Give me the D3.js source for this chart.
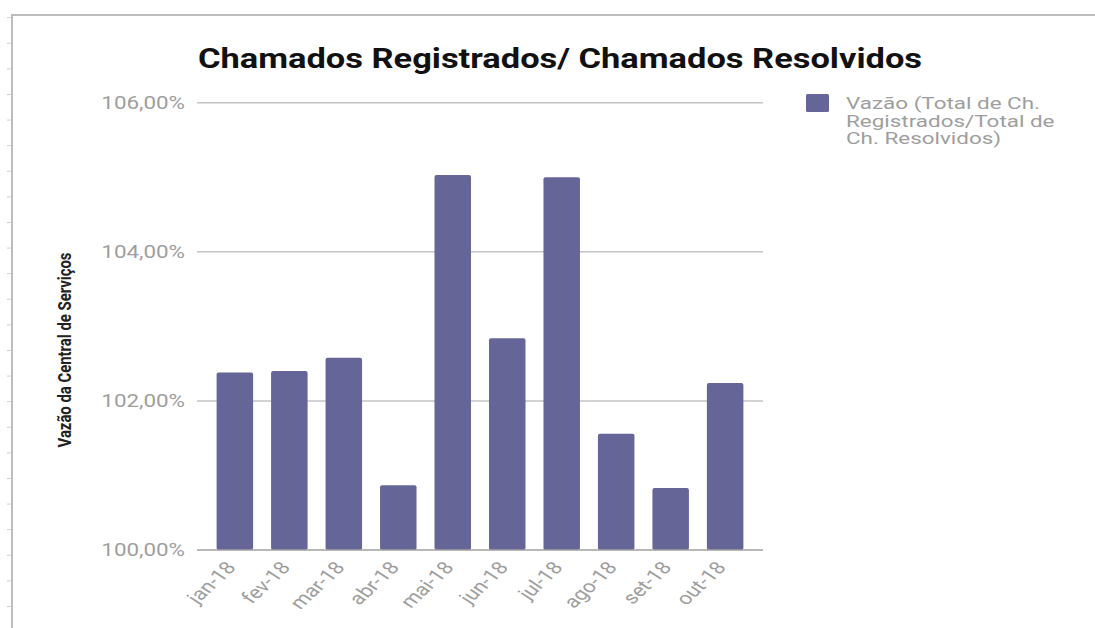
<!DOCTYPE html>
<html>
<head>
<meta charset="utf-8">
<script src="https://cdn.jsdelivr.net/npm/d3@7"></script>
<style>
  body { margin: 0; background: #fff; }
  svg { display: block; font-family: Roboto, "Noto Sans", sans-serif; }
</style>
</head>
<body>
<svg id="chart"></svg>
<script>
// chart data
const months = ["jan-18", "fev-18", "mar-18", "abr-18", "mai-18", "jun-18", "jul-18", "ago-18", "set-18", "out-18"];
const vazao = [102.38, 102.40, 102.58, 100.87, 105.03, 102.84, 105.00, 101.56, 100.83, 102.24];
const yTicks = [100, 102, 104, 106];
const legendLines = ["Vazão (Total de Ch.", "Registrados/Total de", "Ch. Resolvidos)"];

const width = 1095;
const height = 628;
const sx = 1.28; // the picture is stretched sideways

const svg = d3.select('#chart')
    .attr('width', width)
    .attr('height', height);

// page frame + ruler ticks
svg.append('line')
    .attr('x1', 11).attr('x2', width).attr('y1', 15).attr('y2', 15)
    .attr('stroke', '#bdbdbd').attr('stroke-width', 2);
svg.append('line')
    .attr('x1', 12).attr('x2', 12).attr('y1', 15).attr('y2', height)
    .attr('stroke', '#bdbdbd').attr('stroke-width', 2);
svg.selectAll('.ruler')
    .data(d3.range(24)).join('line')
    .attr('class', 'ruler')
    .attr('x1', 7).attr('x2', 11)
    .attr('y1', d => 17.7 + d * 25.6).attr('y2', d => 17.7 + d * 25.6)
    .attr('stroke', '#d0d0d0');

const x = d3.scaleBand()
    .domain(months)
    .range([197, 763])
    .paddingInner(0.33)
    .paddingOuter(0.36);

const y = d3.scaleLinear()
    .domain([100, 106])
    .range([550, 102.7]);

// gridlines
svg.selectAll('.grid')
    .data(yTicks.filter(d => d !== 100)).join('line')
    .attr('class', 'grid')
    .attr('x1', 197).attr('x2', 763)
    .attr('y1', d => y(d)).attr('y2', d => y(d))
    .attr('stroke', '#c4c4c4').attr('stroke-width', 1.5);

// y tick labels
svg.selectAll('.ylab')
    .data(yTicks).join('text')
    .attr('class', 'ylab')
    .attr('transform', d => `translate(185,${y(d)}) scale(${sx},1)`)
    .attr('dy', '0.35em')
    .attr('text-anchor', 'end')
    .attr('font-size', 17.5)
    .attr('fill', '#9e9e9e')
    .text(d => d.toFixed(2).replace('.', ',') + '%');

// bars
svg.selectAll('.bar')
    .data(months).join('rect')
    .attr('class', 'bar')
    .attr('x', d => x(d))
    .attr('width', x.bandwidth())
    .attr('y', (d, i) => y(vazao[i]))
    .attr('height', (d, i) => y(100) - y(vazao[i]))
    .attr('rx', 2)
    .attr('fill', '#656598');

// baseline
svg.append('line')
    .attr('x1', 197).attr('x2', 763)
    .attr('y1', y(100)).attr('y2', y(100))
    .attr('stroke', '#a0a0a0').attr('stroke-width', 1.5);

// x labels
svg.selectAll('.xlab')
    .data(months).join('text')
    .attr('class', 'xlab')
    .attr('transform', d => `translate(${x(d) + x.bandwidth() / 2 + 2},568) scale(${sx},1) rotate(-50)`)
    .attr('text-anchor', 'end')
    .attr('font-size', 17.5)
    .attr('fill', '#9e9e9e')
    .text(d => d);

// title
svg.append('text')
    .attr('x', 198).attr('y', 68)
    .attr('font-size', 27)
    .attr('font-weight', 'bold')
    .attr('textLength', 724)
    .attr('lengthAdjust', 'spacingAndGlyphs')
    .attr('fill', '#111')
    .text('Chamados Registrados/ Chamados Resolvidos');

// y axis title
svg.append('text')
    .attr('transform', `translate(71,350) scale(1.22,1) rotate(-90)`)
    .attr('text-anchor', 'middle')
    .attr('font-size', 15)
    .attr('font-weight', 'bold')
    .attr('textLength', 195)
    .attr('lengthAdjust', 'spacingAndGlyphs')
    .attr('fill', '#222')
    .text('Vazão da Central de Serviços');

// legend
svg.append('rect')
    .attr('x', 806).attr('y', 94)
    .attr('width', 23).attr('height', 18)
    .attr('rx', 1.5)
    .attr('fill', '#656598');
svg.append('text')
    .attr('transform', `translate(846,109) scale(1.36,1)`)
    .attr('font-size', 16.5)
    .attr('fill', '#9e9e9e')
    .selectAll('tspan')
    .data(legendLines).join('tspan')
    .attr('x', 0)
    .attr('y', (d, i) => i * 17.7)
    .text(d => d);
</script>
</body>
</html>
